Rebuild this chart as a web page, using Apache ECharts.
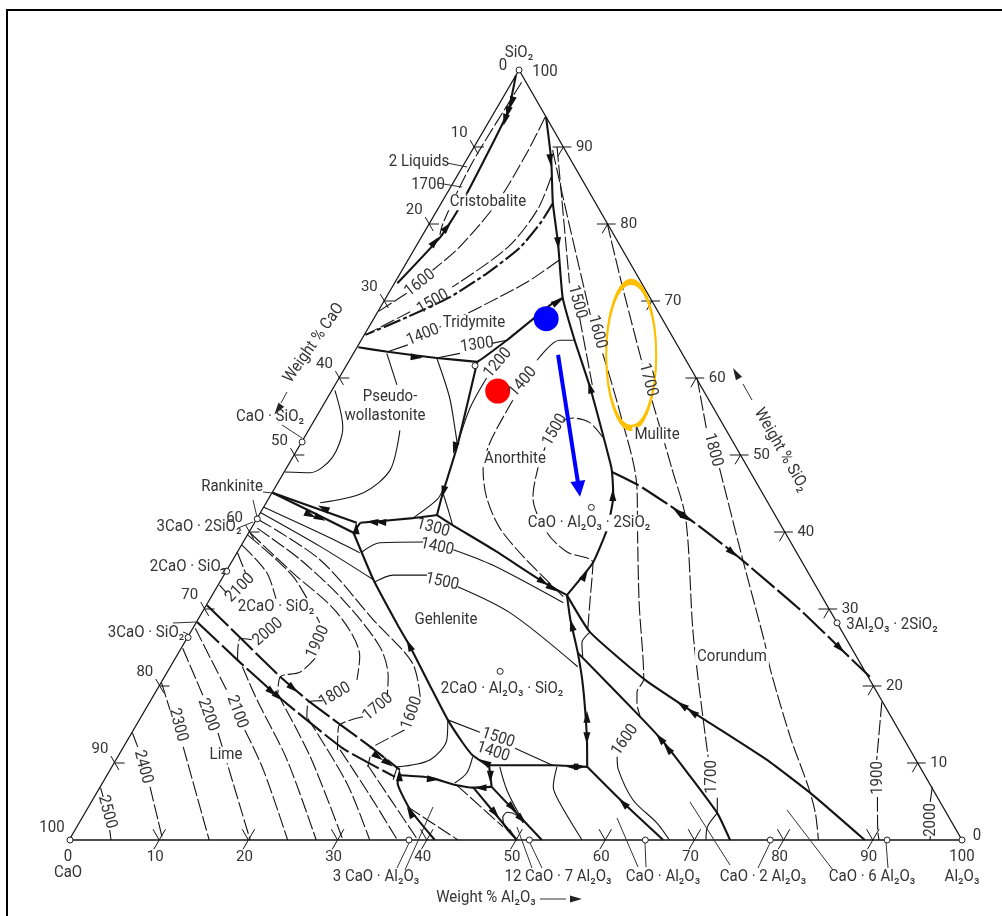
<!DOCTYPE html>
<html><head><meta charset="utf-8">
<style>html,body{margin:0;padding:0;background:#fff}#c{width:1002px;height:916px}</style>
<script src="https://cdn.jsdelivr.net/npm/echarts@6/dist/echarts.min.js"></script>
</head><body><div id="c"></div>
<script>
// All compositions below are [weight % Al2O3, weight % SiO2]; CaO is the balance.
const triangleEdges = [[[-0.1,0],[100,0],[0,100],[-0.1,0]]];

const solidBoundaries = [
 [[0,99.3],[1.5,94.5],[2.0,87.9],[2.3,81.6],[2.1,78.3],[0.3,72.3]],
 [[6.1,93.9],[9.5,88.3],[12.5,82.7],[15.7,77.5],[19.8,70.4],[23.9,64.9],[28.7,58.8],[35.9,49.0],[36.7,47.8],[38.5,44.5],[39.9,40.3],[40.5,36.0],[39.7,31.8]],
 [[19.8,70.4],[19.0,69.7],[16.3,64.9],[14.8,62.6],[14.4,62.1]],
 [[0.1,64.0],[3.7,63.4],[9.6,62.6],[14.4,62.1]],
 [[14.4,62.1],[17.7,51.0],[19.1,45.1],[19.9,42.2]],
 [[19.9,42.2],[22.3,40.9],[28.5,37.7],[36.2,33.5],[39.7,31.8]],
 [[19.9,42.2],[17.4,41.8],[11.8,41.2]],
 [[0,45.1],[11.4,41.2]],
 [[0,45.1],[5.9,42.5],[11.7,39.9]],
 [[11.7,39.9],[11.8,41.2]],
 [[11.7,39.9],[17.0,33.8],[22.7,27.9],[25.5,25.1],[30.4,19.9],[34.5,15.6],[37.7,12.6],[39.6,11.0],[41.9,9.7]],
 [[41.9,9.7],[49.2,9.7],[53.2,9.5]],
 [[53.2,9.5],[51.2,13.4],[47.5,19.9],[44.7,24.3],[41.7,28.6],[39.7,31.8]],
 [[53.2,9.5],[59.5,4.9],[66.5,0]],
 [[39.7,31.8],[44.7,27.0],[54.0,20.8],[62.6,16.0],[72.9,10.4],[80.4,5.8],[89.1,0]],
 [[44.7,24.3],[56.4,15.6],[60.9,12.1],[70.8,3.5],[74.0,0]],
 [[32.7,8.4],[36.3,8.1],[39.8,7.1],[41.8,6.8],[43.8,6.9]],
 [[43.8,6.9],[42.1,9.7]],
 [[43.8,6.9],[52.9,0]],
 [[41.8,6.8],[50.1,0]],
 [[32.7,8.4],[33.0,7.4],[36.2,3.9],[40.9,0]]
];
const dashedBoundaries = [
 [[36.7,47.8],[40.5,46.1],[48.1,41.9],[55.6,37.3],[66.8,29.9],[73.8,24.9],[79.0,21.2]],
 [[0,30.5],[12.9,21.2],[17.9,17.9],[27.6,12.1],[32.4,9.1]],
 [[0,28.3],[7.4,23.1],[14.0,18.6],[24.6,11.9],[32.3,8.2]]
];
const dashDotBoundaries = [
 [[12.5,82.7],[12.4,80.1],[11.7,76.9],[9.7,73.6],[7.1,70.5],[3.6,67.9],[0.1,65.6]]
];
const solidIsotherms = [
 [[3.7,63.2],[6.9,59.1]],
 [[10.2,53.2],[11.7,48.1],[10.2,45.1],[6.0,43.8]],
 [[0.3,58.4],[3.6,53.6],[4.4,49.7],[2.9,47.7],[0,47.8]],
 [[9.6,62.6],[13.6,57.5],[16.6,52.9],[17.6,51.3]],
 [[17.4,41.8],[18.9,44.2],[18.9,45.5]],
 [[19.1,45.1],[20.8,42.9],[22.3,40.9]],
 [[13.9,37.4],[15.3,38.6],[20.1,38.7]],
 [[24.0,37.7],[29.4,35.7],[39.8,30.8]],
 [[17.3,33.5],[18.9,34.4],[22.7,34.4]],
 [[26.9,32.9],[34.5,29.5],[45.6,22.5]],
 [[16.5,60.0],[16.6,56.1],[17.6,51.3]],
 [[9.6,62.6],[11.9,63.2]],
 [[14.8,64.5],[16.3,64.9]],
 [[3.7,63.4],[5.5,64.3]],
 [[34.5,15.6],[38.9,14.0]],
 [[43.9,11.9],[49.2,9.7]],
 [[34.5,15.6],[35.7,13.0],[35.1,10.4],[31.9,9.5]],
 [[39.7,10.8],[40.1,8.7],[39.4,7.4]],
 [[49.8,9.5],[50.7,6.9],[52.5,4.8],[57.4,0]],
 [[43.4,9.5],[45.7,6.5],[49.0,3.0]],
 [[47.0,3.0],[47.2,3.6],[48.5,3.2],[49.7,2.2]],
 [[47.0,3.0],[47.9,1.7],[50.1,0]],
 [[0,43.2],[9.0,39.4],[13.7,37.3]],
 [[0,42.5],[8.9,38.1],[17.0,33.8]],
 [[55.9,10.8],[56.9,9.1],[60.5,5.2],[64.7,2.2],[67.2,0]],
 [[44.7,27.0],[44.5,25.6],[45.5,23.8]],
 [[70.8,3.5],[70.6,1.7],[71.3,0]],
 [[23.9,64.9],[22.2,64.9],[21.0,62.3]]
];
const dashedIsotherms = [
 [[1.1,98.4],[0.8,89.2],[1.0,84.8],[1.5,80.1],[1.9,78.6]],
 [[6.0,93.9],[6.3,89.2],[6.2,82.7],[4.9,77.0],[3.4,74.0]],
 [[2.0,71.0],[0,68.6]],
 [[10.6,86.1],[11.2,81.8],[10.3,76.9],[6.7,71.8]],
 [[3.6,68.6],[0.1,65.6]],
 [[16.9,75.3],[14.8,72.5],[11.1,69.2],[7.9,66.6]],
 [[9.0,89.6],[14.7,81.4],[24.0,68.2]],
 [[27.9,63.2],[33.5,55.8],[40.5,45.8],[43.8,39.4],[48.3,30.8],[53.8,20.9],[53.9,19.2],[54.6,17.8],[55.8,16.1]],
 [[9.3,90.0],[19.6,72.3]],
 [[23.0,67.8],[28.8,59.1]],
 [[19.9,80.1],[25.8,71.8],[33.0,61.9]],
 [[36.5,57.1],[43.3,48.1],[48.1,41.6],[56.6,26.4],[66.1,10.8]],
 [[69.8,5.5],[70.8,3.5]],
 [[40.1,60.0],[44.6,53.2]],
 [[48.5,48.3],[57.1,36.4],[65.0,25.6],[67.4,22.1],[74.0,13.4],[79.3,6.9],[81.8,3.5],[83.9,0]],
 [[82.0,17.9],[85.2,10.4]],
 [[87.7,5.6],[89.9,1.3],[90.7,0]],
 [[93.2,6.9],[94.0,4.8]],
 [[96.2,0.5],[96.4,0]],
 [[20.9,57.1],[21.1,51.6],[22.1,48.1],[24.3,44.5],[27.7,40.6],[32.3,36.8],[39.4,31.6]],
 [[33.4,52.3],[31.0,54.2],[28.8,54.8],[27.8,54.5]],
 [[27.6,51.0],[28.2,48.1],[29.5,44.5],[33.4,39.9],[36.9,37.4],[40.5,36.0],[42.6,31.2],[44.3,27.3]],
 [[0.2,41.6],[9.7,36.4],[19.6,28.6],[26.8,23.0],[29.9,18.6]],
 [[30.3,14.3],[27.6,11.9]],
 [[0.6,40.5],[7.5,36.4],[14.9,31.2],[22.1,25.1],[25.0,21.2],[26.2,18.6]],
 [[24.8,16.0],[22.7,14.7],[24.1,11.7]],
 [[0.1,39.9],[7.5,34.7],[15.1,29.5],[20.5,23.8],[21.7,20.8]],
 [[19.2,18.1],[17.7,17.9],[18.6,15.8]],
 [[0,39.6],[7.8,34.2],[13.8,28.2]],
 [[15.6,23.6],[14.8,21.8],[12.9,21.2],[13.7,19.1]],
 [[0,38.3],[4.6,34.7],[7.7,30.8]],
 [[7.3,26.0],[5.9,26.2],[7.0,23.4]],
 [[0,37.3],[2.2,34.7]],
 [[0.1,33.1],[1.4,32.1]],
 [[0,6.8],[0.9,5.6]],
 [[3.8,1.3],[4.6,0]],
 [[0,13.9],[1.5,12.1]],
 [[5.5,6.9],[10.4,0]],
 [[0,20.4],[2.7,16.9]],
 [[6.6,12.1],[15.6,0]],
 [[0.1,24.9],[5.6,18.6]],
 [[9.6,13.9],[20.2,0]],
 [[0.2,27.5],[8.1,19.1]],
 [[12.4,14.3],[17.1,9.1],[24.4,0]],
 [[8.0,22.5],[11.8,18.2],[19.1,10.4],[27.6,0]],
 [[13.6,19.1],[21.5,10.8],[30.6,0]],
 [[18.7,15.8],[27.3,7.4],[33.6,0]],
 [[24.4,11.7],[30.7,5.8],[36.7,0]],
 [[28.5,9.7],[39.0,0]],
 [[28.2,10.8],[28.6,9.5]],
 [[31.9,9.5],[32.3,7.8]],
 [[35.7,4.3],[43.5,0]],
 [[39.8,7.1],[47.7,1.7]]
];
// [Al2O3, SiO2, direction of the flow arrow in degrees]
const flowArrows = [
 [1.3,95.8,165],[1.5,94.5,165],[1.7,93.5,165],[2.2,79.6,-40],[1.8,77.7,-40],
 [9.4,88.3,185],[15.7,77.5,185],[19.5,69.9,-60],[7.3,62.7,-95],[17.5,50.9,165],[19.1,45.2,165],
 [14.0,41.3,85],[13.1,41.3,85],[6.7,43.1,65],[5.7,42.2,-115],[7.0,41.8,-115],[11.7,40.5,0],
 [36.2,33.5,-122],[37.6,32.7,-122],[40.4,34.4,-30],[38.3,44.8,0],[28.7,58.8,15],[42.2,27.9,15],
 [25.3,25.3,25],[49.9,16.0,0],[51.3,13.2,180],[51.5,9.5,90],[52.4,9.5,-90],[41.4,10.1,60],
 [36.7,7.9,-95],[43.0,8.2,180],[42.6,6.8,90],[47.5,4.2,-135],[49.3,2.7,-135],[45.9,3.5,-140],
 [36.3,3.6,30],[29.1,10.8,-125],[30.6,10.0,-125],[59.5,13.2,40],[61.0,11.9,40],[59.8,17.5,55],
 [61.4,16.6,55],[46.7,42.6,55],[48.1,41.8,-125],[55.5,37.3,-130],[73.8,24.9,-135],[59.6,4.8,45],
 [13.0,19.2,-130],[14.0,18.6,-130],[15.1,19.7,-130],[32.7,8.4,0]
];
// Pure oxides and compounds, [Al2O3, SiO2]
const compounds = [
 [0,100],[0,0],[100,0],[0,51.7],[0,41.7],[0,34.9],[0,26.3],[38,0],[51.5,0],[64.5,0],[78.5,0],[91.6,0],
 [71.8,28.2],[36.7,43.2],[37.2,21.9],[14.4,61.6]
];
const bottomTicks = [10,20,30,40,50,60,70,80,90];
const leftTicks = [10,20,30,40,50,60,70,80,90];
const rightTicks = [90,80,70,60,50,40,30,20,10];
const redPoint = [18.6,58.3];
const bluePoint = [19.3,67.7];
const blueArrowPath = [[23.0,63.0],[34.1,45.6]];
const ellipseCentre = [31.2,63.0];

// Page-level text and leader lines: [text, x, y, rotation in degrees, blank the lines behind it]
const S2='SiO\u2082', A23='Al\u2082O\u2083';
const pageText = [
 [S2,519,53,0],['0',503,66,0],['100',545,72,0],['100',52,828,0],['0',977,836,0],['0',68,857,0],['100',962,857,0],
 ['CaO',68,873,0],[A23,962,877,0],
 ['3 CaO \u00b7 '+A23,376,877,0],['12 CaO \u00b7 7 '+A23,558,877,0],['CaO \u00b7 '+A23,663,877,0],
 ['CaO \u00b7 2 '+A23,763,877,0],['CaO \u00b7 6 '+A23,872,877,0],['Weight % '+A23,486,898,0],
 ['2 Liquids',419,162,0],['1700',428,185,0],['Cristobalite',488,202,0,1],['Tridymite',474,323,0,1],
 ['1600',420,283,38],['1500',433,302,30],['1400',423,335,22],['1300',477,345,8],['1200',498,363,50],['1400',523,382,50],['1500',555,430,60],
 ['Anorthite',515,459,0,1],['Pseudo-',390,397,0],['wollastonite',385,416,0],['Rankinite',232,487,0],
 ['3CaO \u00b7 2'+S2,199,527,0],['2CaO \u00b7 '+S2,188,567,0],['3CaO \u00b7 '+S2,146,633,0],['CaO \u00b7 '+S2,270,417,0],
 ['2100',240,588,45],['2000',268,632,40],['2CaO \u00b7 '+S2,276,607,0,1],['1900',318,642,65],['1800',335,695,30],['1700',378,707,40],['1600',412,713,70],
 ['Gehlenite',446,620,0],['1400',437,547,-12],['1500',442,582,-12],['1300',433,528,-15],
 ['CaO \u00b7 '+A23+' \u00b7 2'+S2,589,523,0,1],['Mullite',657,435,0,1],
 ['1500',577,302,-75],['1600',597,332,-75],['1700',648,380,-75],['1800',713,450,-75],
 ['Corundum',732,657,0,1],['1600',625,740,55],['1700',712,777,90],['1900',878,778,90],['2000',931,820,90],
 ['3'+A23+' \u00b7 2'+S2,892,625,0],['Lime',226,755,0,1],
 ['2100',237,712,-70],['2200',208,715,-70],['2300',178,725,-75],['2400',143,767,-75],['2500',107,812,-75],
 ['2CaO \u00b7 '+A23+' \u00b7 '+S2,502,689,0],['1500',498,738,-18],['1400',493,752,-18],
 ['Weight % CaO',314,343,55],['Weight % '+S2,781,450,-60]
];
const leaders = [
 [447,163,467,167],[437,183,462,187],[263,492,273,493],[253,500,257,517],[238,528,253,522],[220,570,227,568],
 [173,623,197,622],[183,632,188,634],[282,425,302,438],[409,843,397,868],[433,807,405,870],[517,827,532,868],
 [530,843,542,868],[617,818,638,867],[645,843,646,867],[690,802,730,865],[770,843,758,868],[787,810,833,870],[886,842,888,868],
 [540,899,566,899],[752,400,743,384],[287,392,281,403]
];
const pageArrows = [[574,899,-90],[737,375,30],[279,408,145]];

const SKEW = 0.5034;
const project = p => [p[0] + SKEW * p[1], p[1], ...p.slice(2)];
const INK = '#141414';
const FONT = '"Roboto","DejaVu Sans"';

const lineSeries = (lines, style, smooth) => lines.map(l => ({
  type:'line', data:l.map(project), symbol:'none', clip:false, silent:true, animation:false,
  smooth: smooth, lineStyle:Object.assign({color:INK}, style), z:3
}));

const tickSegments = [];
bottomTicks.forEach(a => {
  tickSegments.push([[a-1.4,1.4],[a,0]],[[a,1.4],[a,-1.2]]);
});
leftTicks.forEach(k => { const s = 100-k;
  tickSegments.push([[0,s],[1.1,s]],[[-0.9,s+0.9],[0.9,s-0.9]]);
});
rightTicks.forEach(k => { const a = 100-k;
  tickSegments.push([[a-1.2,k],[a+0.9,k]],[[a,k],[a,k-1.2]]);
});

const tickLabelSeries = (ticks, toPoint, offset) => ({
  type:'scatter', symbolSize:0, clip:false, silent:true, animation:false, itemStyle:{opacity:1},
  data: ticks.map(t => ({value:project(toPoint(t)), label:{formatter:String(t)}})),
  label:{show:true, position:'inside', offset, color:'#333', fontFamily:FONT, fontSize:15, opacity:1}, z:5
});

const series = [
  ...lineSeries(triangleEdges,{width:1.3},false),
  ...lineSeries(tickSegments,{width:1},false),
  ...lineSeries(solidBoundaries,{width:2.1},0.15),
  ...lineSeries(dashedBoundaries,{width:2.1,type:[30,4]},0.15),
  ...lineSeries(dashDotBoundaries,{width:2.1,type:[18,3,4,3]},0.2),
  ...lineSeries(solidIsotherms,{width:1.1},0.3),
  ...lineSeries(dashedIsotherms,{width:1.1,type:[15,3]},0.3),
  { type:'scatter', symbol:'triangle', symbolSize:[7,12], clip:false, silent:true, animation:false, z:6,
    data:flowArrows.map(project), symbolRotate:v=>v[2], itemStyle:{color:'#111',opacity:1} },
  { type:'scatter', symbol:'circle', symbolSize:6, clip:false, silent:true, animation:false, z:6,
    data:compounds.map(project), itemStyle:{color:'#fff',borderColor:'#222',borderWidth:1,opacity:1} },
  tickLabelSeries(bottomTicks, a=>[a,0], [-4,17]),
  tickLabelSeries(leftTicks, k=>[0,100-k], [-15,-14]),
  tickLabelSeries(rightTicks, k=>[100-k,k], [21,0]),
  { type:'scatter', symbol:'circle', symbolSize:25, clip:false, silent:true, animation:false, z:8,
    data:[project(redPoint)], itemStyle:{color:'#ff0000',opacity:1} },
  { type:'scatter', symbol:'circle', symbolSize:25, clip:false, silent:true, animation:false, z:8,
    data:[project(bluePoint)], itemStyle:{color:'#0000ff',opacity:1} },
  { type:'line', data:blueArrowPath.map(project), symbol:'none', clip:false, silent:true, animation:false, z:8,
    lineStyle:{color:'#0000ff',width:4} },
  { type:'scatter', symbol:'triangle', symbolSize:[15,16], clip:false, silent:true, animation:false, z:8,
    data:[project(blueArrowPath[1])], symbolRotate:188, itemStyle:{color:'#0000ff',opacity:1} },
  { type:'scatter', symbol:'path://M0 -1A1 1 0 1 1 0 1A1 1 0 1 1 0 -1Z', symbolSize:[50,146], symbolKeepAspect:false,
    clip:false, silent:true, animation:false, z:8, data:[project(ellipseCentre)],
    itemStyle:{color:'rgba(0,0,0,0)',borderColor:'#ffc000',borderWidth:3.6,opacity:1} }
];

const graphic = [
  {type:'rect',shape:{x:7,y:10,width:1000,height:920},style:{fill:'none',stroke:'#000',lineWidth:2},silent:true,z:0},
  ...leaders.map(l=>({type:'line',shape:{x1:l[0],y1:l[1],x2:l[2],y2:l[3]},style:{stroke:'#333',lineWidth:1},silent:true,z:10})),
  ...pageArrows.map(a=>({type:'polygon',x:a[0],y:a[1],rotation:a[2]*Math.PI/180,
     shape:{points:[[0,-8],[-3.5,4],[3.5,4]]},style:{fill:'#222'},silent:true,z:10})),
  ...pageText.map(t=>({type:'text',x:t[1],y:t[2],rotation:t[3]*Math.PI/180,scaleY:1.1,silent:true,z:20,
     style:Object.assign({text:t[0],fill:'#333',font:'15px '+FONT,align:'center',verticalAlign:'middle'},
       t[4]?{backgroundColor:'#fff',padding:[0,2]}:{})}))
];

const chart = echarts.init(document.getElementById('c'),null,{renderer:'canvas'});
chart.setOption({
  animation:false, backgroundColor:'#fff',
  grid:{left:70,top:70,width:892,height:770},
  xAxis:{type:'value',min:0,max:100,show:false},
  yAxis:{type:'value',min:0,max:100,show:false},
  graphic, series
});
</script></body></html>
